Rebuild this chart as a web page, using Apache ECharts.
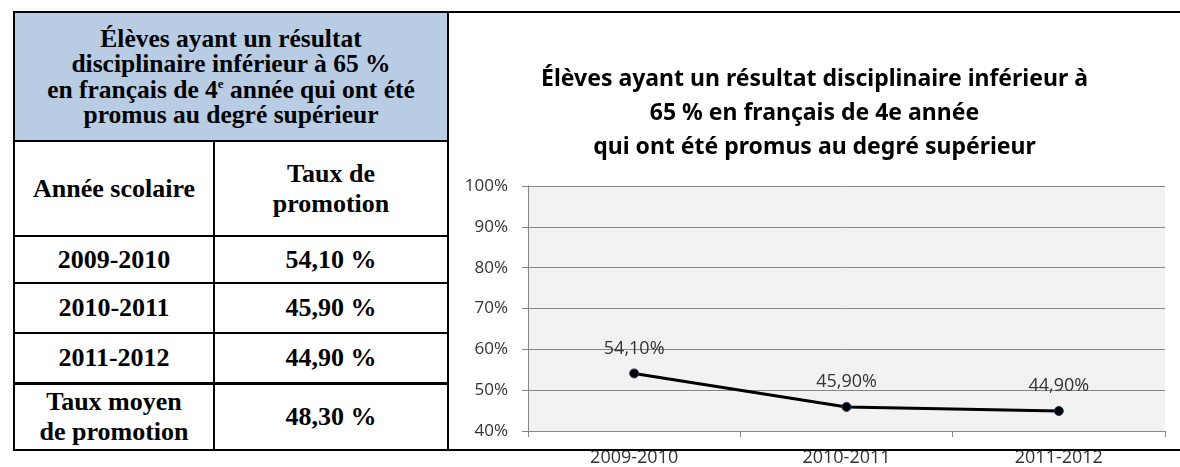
<!DOCTYPE html>
<html>
<head>
<meta charset="utf-8">
<script src="https://cdn.jsdelivr.net/npm/echarts@6/dist/echarts.min.js"></script>
<style>
  html, body { margin: 0; padding: 0; background: #fff; }
  #page { position: relative; width: 1180px; height: 467px; overflow: hidden; }
  #tbl {
    position: absolute; left: 13px; top: 11px;
    border-collapse: collapse; table-layout: fixed;
    font-family: "Liberation Serif", "Times New Roman", serif;
    font-weight: bold; color: #000; text-align: center;
  }
  #tbl td { border: 2px solid #000; padding: 0; vertical-align: middle; white-space: nowrap; }
  #tbl .head { background: #b8cce4; font-size: 25.5px; line-height: 25.5px; }
  #tbl .row td { font-size: 26px; line-height: 30px; }
  #tbl .avg td { border-top: 3px solid #000; }
  .hline { position: absolute; left: 446px; width: 734px; height: 2px; background: #000; z-index: 3; }
  #chart { position: absolute; left: 449px; top: 13px; width: 731px; height: 454px; }
</style>
</head>
<body>
<div id="page">
  <table id="tbl">
    <colgroup><col style="width:200px"><col style="width:234px"></colgroup>
    <tbody id="tbody"></tbody>
  </table>
  <div class="hline" style="top:11px"></div>
  <div class="hline" style="top:449px"></div>
  <div id="chart"></div>
</div>
<script>
// données
const years = ["2009-2010", "2010-2011", "2011-2012"];
const rates = [54.1, 45.9, 44.9];
const avgRate = 48.3;
const tableTitle = "Élèves ayant un résultat<br>disciplinaire inférieur à 65 %<br>en français de 4<sup style=\"font-size:13px;vertical-align:10px;line-height:0\">e</sup> année qui ont été<br>promus au degré supérieur";
const colHeaders = ["Année scolaire", "Taux de<br>promotion"];
const avgLabel = "Taux moyen<br>de promotion";
const chartTitle = "Élèves ayant un résultat disciplinaire inférieur à\n65 % en français de 4e année\nqui ont été promus au degré supérieur";
const yMin = 40, yMax = 100, yStep = 10;

function fmt(v, sep) {
  return v.toFixed(2).replace(".", ",") + sep + "%";
}

// tableau
const tb = document.getElementById("tbody");
let html = '<tr style="height:129px"><td class="head" colspan="2">' + tableTitle + "</td></tr>";
html += '<tr class="row" style="height:95px"><td>' + colHeaders[0] + "</td><td>" + colHeaders[1] + "</td></tr>";
years.forEach(function (y, i) {
  html += '<tr class="row" style="height:' + (i === 0 ? 47 : 50) + 'px"><td>' + y + "</td><td>" + fmt(rates[i], " ") + "</td></tr>";
});
html += '<tr class="row avg" style="height:67px"><td>' + avgLabel + "</td><td>" + fmt(avgRate, " ") + "</td></tr>";
tb.innerHTML = html;

// graphique
const chart = echarts.init(document.getElementById("chart"));
const font = '"Open Sans", "Noto Sans", sans-serif';
const option = {
  title: {
    text: chartTitle,
    left: "center",
    top: 44,
    textStyle: {
      fontFamily: '"Noto Sans", sans-serif',
      fontSize: 23,
      fontWeight: "bold",
      color: "#000",
      lineHeight: 34
    }
  },
  grid: {
    left: 79, right: 15, top: 173, bottom: 35,
    show: true, backgroundColor: "#f2f2f2", borderWidth: 0
  },
  xAxis: {
    type: "category",
    data: years,
    boundaryGap: true,
    axisLine: { lineStyle: { color: "#868686", width: 1 } },
    axisTick: { show: true, length: 6, lineStyle: { color: "#868686" } },
    axisLabel: { color: "#333", fontFamily: font, fontSize: 18, margin: 18 }
  },
  yAxis: {
    type: "value",
    min: yMin, max: yMax, interval: yStep,
    axisLine: { show: true, lineStyle: { color: "#868686", width: 1 } },
    axisTick: { show: true, length: 6, lineStyle: { color: "#868686" } },
    splitLine: { show: true, lineStyle: { color: "#868686", width: 1 } },
    axisLabel: { color: "#333", fontFamily: font, fontSize: 17, margin: 20,
      formatter: function (v) { return v + "%"; } }
  },
  series: [{
    type: "line",
    data: rates,
    symbol: "circle",
    symbolSize: 9,
    lineStyle: { color: "#000", width: 3 },
    itemStyle: { color: "#000", borderColor: "#1f3864", borderWidth: 1 },
    label: {
      show: true, position: "top", distance: 11,
      color: "#333", fontFamily: font, fontSize: 18,
      formatter: function (p) { return fmt(p.value, ""); }
    }
  }],
  animation: false
};
chart.setOption(option);
window.addEventListener("resize", function () { chart && chart.resize(); });
</script>
</body>
</html>
